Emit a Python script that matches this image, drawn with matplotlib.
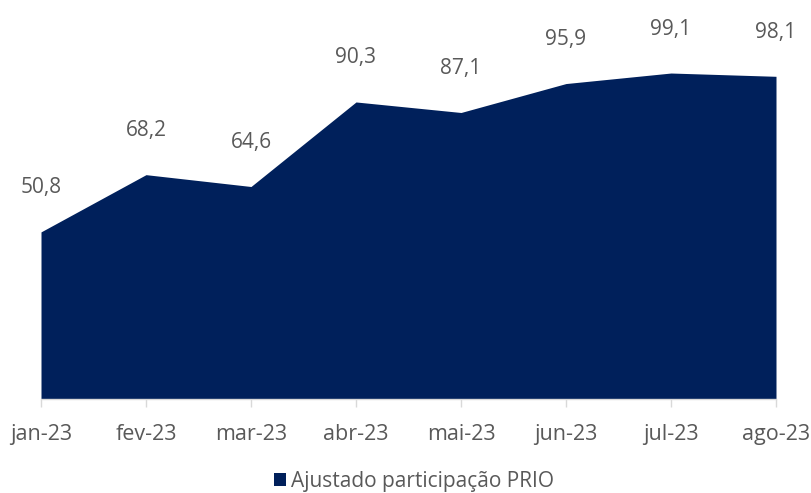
import matplotlib

matplotlib.use("Agg")
import matplotlib.pyplot as plt
from matplotlib.patches import Patch

MONTHS = ["jan-23", "fev-23", "mar-23", "abr-23", "mai-23", "jun-23", "jul-23", "ago-23"]
VALUES = [50.8, 68.2, 64.6, 90.3, 87.1, 95.9, 99.1, 98.1]
SERIES_NAME = "Ajustado participação PRIO"

AREA_COLOR = "#00205B"
TEXT_COLOR = "#595959"
AXIS_COLOR = "#D9D9D9"

plt.rcParams["font.family"] = ["Open Sans", "DejaVu Sans"]

figure = plt.figure(figsize=(8.11, 4.93), dpi=100)
axis = figure.add_axes([41 / 811, 1 - 399 / 493, (776 - 41) / 811, 399 / 493])

positions = list(range(len(MONTHS)))
axis.fill_between(positions, VALUES, 0, color=AREA_COLOR, linewidth=0)
axis.set_xlim(0, len(MONTHS) - 1)
axis.set_ylim(0, 121.3)

for x_position, value in zip(positions, VALUES):
    axis.annotate(
        f"{value:.1f}".replace(".", ","),
        (x_position, value),
        xytext=(0, 44),
        textcoords="offset pixels",
        ha="center",
        va="center",
        fontsize=15,
        color=TEXT_COLOR,
        annotation_clip=False,
    )

axis.set_xticks(positions)
axis.set_xticklabels(MONTHS, fontsize=15.5, color=TEXT_COLOR)
axis.tick_params(axis="x", length=6, width=1, color=AXIS_COLOR, pad=12)
axis.set_yticks([])
for side in ("top", "right", "left"):
    axis.spines[side].set_visible(False)
axis.spines["bottom"].set_color(AXIS_COLOR)
axis.spines["bottom"].set_linewidth(1)

figure.legend(
    handles=[Patch(facecolor=AREA_COLOR, label=SERIES_NAME)],
    loc="center",
    bbox_to_anchor=(414 / 811, 1 - 481 / 493),
    frameon=False,
    fontsize=15,
    handlelength=0.6,
    handleheight=0.6,
    handletextpad=0.25,
    labelcolor=TEXT_COLOR,
    borderpad=0,
)

figure.savefig("out.png", dpi=100, facecolor="white")
plt.close(figure)
